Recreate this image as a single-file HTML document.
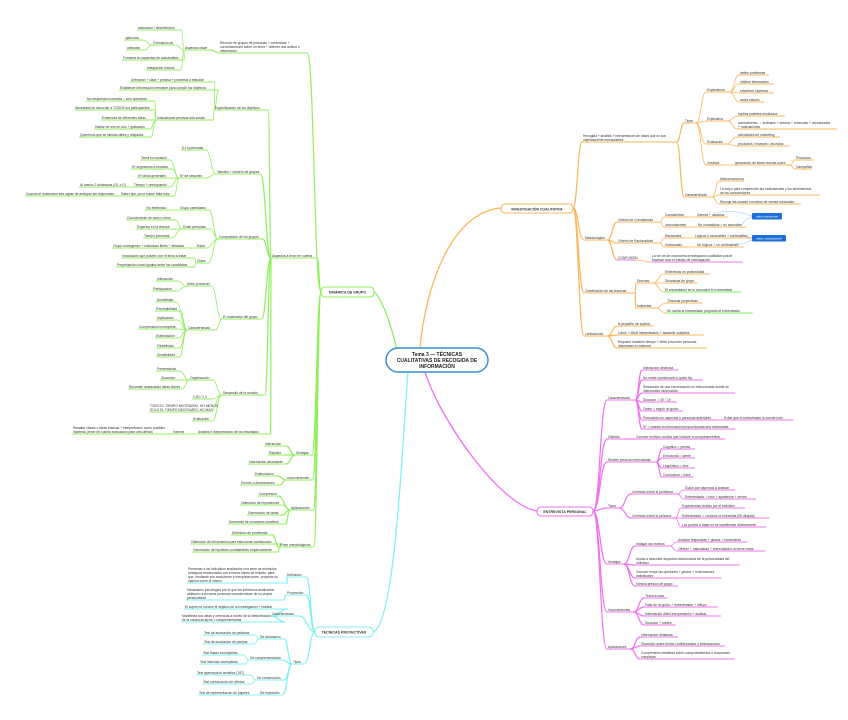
<!DOCTYPE html>
<html><head><meta charset="utf-8"><style>
html,body{margin:0;padding:0;background:#fff;width:848px;height:720px;overflow:hidden}
svg{display:block}
text{font-family:"Liberation Sans",sans-serif;fill:#333}
</style></head><body>
<svg id="s" width="848" height="720" viewBox="0 0 848 720" xmlns="http://www.w3.org/2000/svg">
<rect width="848" height="720" fill="#fff"/>
<g id="c" fill="none"></g><g id="t"></g>
<!-- central -->
<path d="M420 348 C425 290 450 212 501 208" stroke="#f9b65a" stroke-width="1.3" fill="none"/>
<path d="M397 350 C390 320 380 295 374 292" stroke="#8fef5b" stroke-width="1.3" fill="none"/>
<path d="M408 372 C402 450 395 625 373 632" stroke="#7ff0f0" stroke-width="1.3" fill="none"/>
<path d="M425 372 C440 420 500 505 537 511" stroke="#f070f0" stroke-width="1.3" fill="none"/>
<rect x="386" y="348" width="102" height="24" rx="12" fill="#fff" stroke="#3a8fd4" stroke-width="1.5"/>
<text x="437" y="356" font-size="5" text-anchor="middle" font-weight="bold" style="fill:#222">Tema 3 — TÉCNICAS</text>
<text x="437" y="362" font-size="5" text-anchor="middle" font-weight="bold" style="fill:#222">CUALITATIVAS DE RECOGIDA DE</text>
<text x="437" y="368" font-size="5" text-anchor="middle" font-weight="bold" style="fill:#222">INFORMACIÓN</text>
<rect x="501" y="204" width="72" height="9" rx="4" fill="#fff" stroke="#f9b65a" stroke-width="1.1"/>
<text x="537" y="210.3" font-size="3.5" text-anchor="middle" font-weight="bold">INVESTIGACIÓN CUALITATIVA</text>
<rect x="321" y="287" width="53" height="10" rx="4" fill="#fff" stroke="#8fef5b" stroke-width="1.1"/>
<text x="347.5" y="293.3" font-size="3.5" text-anchor="middle" font-weight="bold">DINÁMICA DE GRUPO</text>
<rect x="315" y="627" width="58" height="10" rx="4" fill="#fff" stroke="#7ff0f0" stroke-width="1.1"/>
<text x="344" y="633.3" font-size="3.6" text-anchor="middle" font-weight="bold">TÉCNICAS PROYECTIVAS</text>
<rect x="537" y="507" width="56" height="9" rx="4" fill="#fff" stroke="#f070f0" stroke-width="1.1"/>
<text x="565" y="513" font-size="3.6" text-anchor="middle" font-weight="bold">ENTREVISTA PERSONAL</text>
<!-- blue boxes -->
<path d="M752 216 C735 210 722 210 714 214 M752 217 C738 222 748 225 738 224 M752 238 C738 236 745 233 742 235 M752 240 C740 245 745 244 735 244" stroke="#6aa8e8" stroke-width="0.7" stroke-dasharray="1,1" fill="none"/>
<rect x="752" y="213" width="30" height="6.5" rx="1" fill="#1e6fd9"/>
<text x="767" y="217.5" font-size="3" text-anchor="middle" style="fill:#fff">plano intelectual</text>
<rect x="752" y="235" width="34" height="6.5" rx="1" fill="#1e6fd9"/>
<text x="769" y="239.5" font-size="3" text-anchor="middle" style="fill:#fff">plano motivacional</text>
</svg>
<script>
var C=document.getElementById('c'),T=document.getElementById('t'),NS='http://www.w3.org/2000/svg';
var FS=3.3,CW=1.62;
function wid(t){var m=0;t.split('\n').forEach(function(l){m=Math.max(m,l.length)});return m*CW+3;}
function el(n,a,p){var e=document.createElementNS(NS,n);for(var k in a)e.setAttribute(k,a[k]);p.appendChild(e);return e;}
function draw(node,side,col,px,py,depth){
 var x=node[0],y=node[1],txt=node[2],kids=node[3]||[],uc=node[4]||col,w=wid(txt);
 var lines=txt.split('\n');
 lines.forEach(function(l,i){var tt=el('text',{x:x,y:y-1.2-(lines.length-1-i)*3.9,'font-size':FS},T);tt.textContent=l;});
 el('path',{d:'M'+(x-1)+' '+y+' H'+(x+w),stroke:uc,'stroke-width':1},C);
 var sx=side>0?x-1:x+w;
 if(px!==null){var mx=px+(sx-px)*0.5;
  el('path',{d:'M'+px+' '+py+' C'+mx+' '+py+' '+mx+' '+y+' '+sx+' '+y,stroke:col,'stroke-width':depth<2?1.2:0.8},C);}
 var ex=side>0?x+w:x-1;
 kids.forEach(function(k){draw(k,side,col,ex,y,depth+1)});
}
var O='#f9b65a',G='#8fef5b',Y='#7ff0f0',M='#f070f0',GL='#7ef05a';
var orange=[
[583,142,"Recogida + análisis + interpretación de datos que no son\nobjetivamente mensurables",[
 [685,123,"Tipos",[
  [707,92,"Exploratoria",[[740,75,"define problemas"],[740,84,"obtiene información"],[740,93,"establece hipótesis"],[740,102,"acota estudio"]]],
  [707,121,"Explicativa",[[738,116,"explica posibles resultados"],[738,129,"conocimiento → actitudes + deseos + creencias + necesidades\n+ motivaciones"]]],
  [707,144,"Evaluación",[[738,137,"actividades de marketing"],[738,146,"productos / envases / anuncios"]]],
  [707,165,"Creativa",[[735,165,"generación de ideas nuevas sobre",[[796,160,"Productos"],[796,169,"Campañas"]]]]]
 ]],
 [685,197,"Características",[[720,181,"Macroeconomía"],[720,195,"La mejor para comprender las motivaciones y los sentimientos\nde los consumidores"],[720,204,"Recoge las causas o motivos de ciertas conductas"]]]
]],
[585,240,"Metodologías",[
 [618,222,"Criterio de Consistencia",[[665,217,"Consistentes",[[697,217,"Genera + usuarios"]]],[665,227,"Inconsistentes",[[698,227,"No consistidos = no asumidos"]]]]],
 [618,243,"Criterio de Racionalidad",[[665,238,"Racionales",[[695,238,"Lógicos o razonables + confesables"]]],[665,247,"Irracionales",[[697,247,"No lógicos + no confesables"]]]]],
 [618,260,"CONFUSIÓN",[[652,262,"La ver.dn de una buena investigación cualitativa puede\nfracasar todo el trabajo de investigación",[],M]],M]
]],
[585,293,"Clasificación de las técnicas",[
 [637,283,"Directas",[[665,274,"Entrevistas en profundidad"],[665,283,"Dinámicas de grupo"],[665,292,"El encuestador se le comunica el entrevistado",[],GL]]],
 [637,308,"Indirectas",[[667,303,"Técnicas proyectivas"],[667,313,"Se oculta al entrevistado propósito al entrevistado",[],GL]]]
]],
[585,336,"Limitaciones",[[618,326,"N pequeño de sujetos"],[618,335,"Caros + difícil interpretación + bastante subjetiva"],[618,348,"Requiere bastante tiempo + difícil encontrar personas\ndispuestas a colaborar"]]]
];
orange.forEach(function(n){draw(n,1,O,573,208,0)});
var magenta=[
[608,400,"Características",[[643,370,"Interacción dinámica"],[643,380,"No existe cuestionario o guión fijo"],[643,393,"Simulación de una conversación no estructurada donde se\nintercambia información"],[643,402,"Duración = 30' / 1h"],[643,411,"Orden = seguir un guión"],[643,420,"Persuasión en aspectos o personas anteriores",[[724,420,"Evitar que el entrevistado lo cuente todo"]]],[643,429,"Nº = cuando la información proporcionada sea redundante"]]],
[608,439,"Objetivo",[[636,439,"Conocer motivos ocultos que inducen a comportamientos"]]],
[608,462,"Niveles persona entrevistada",[[663,449,"Cognitivo = piensa"],[663,458,"Emocional = siente"],[663,468,"Lingüístico = dice"],[663,477,"Conductual = hace"]]],
[608,508,"Tipos",[[632,494,"Centrado sobre el problema",[[685,490,"Guión con aspectos a analizar"],[685,499,"Entrevistador = tono + apariencia + neutro"]]],[632,518,"Centrado sobre la persona",[[682,508,"Experiencias vividas por el individuo"],[682,518,"Entrevistador = conduce la entrevista (Ell dirigida)"],[682,527,"Los puntos a tratar no se manifiestan directamente"]]]]],
[608,564,"Ventajas",[[636,546,"Indagar los motivos",[[678,542,"Analizar respuestas + gestos + movimiento"],[678,551,"Ofrecer + naturalidad + entrevistador no tiene notas"]]],[636,565,"Ayuda a descubrir aspectos relacionados de la personalidad del\nindividuo"],[636,578,"Conocer mejor las opiniones + gestos + motivaciones\nindividuales"],[636,586,"Elimina presión de grupo"]]],
[608,612,"Inconvenientes",[[645,598,"Técnica cara"],[645,607,"Falta de un guión + entrevistador + influye"],[645,616,"Información difícil interpretación + análisis"],[645,625,"Duración + costes"]]],
[608,649,"Aplicaciones",[[641,637,"Información detallada"],[641,646,"Discusión sobre temas confidenciales o embarazosos"],[641,659,"Comprensión detallada sobre comportamientos o reacciones\ncomplejas"]]]
];
magenta.forEach(function(n){draw(n,1,M,593,511,0)});
var green=[
[220,53,"Reunión de grupos de personas + moderador +\nconversaciones sobre un tema + obtener una actitud o\ninformación",[
 [185,50,"Aspectos clave",[[138,30,"animación / desinhibición"],[153,45,"Formación de",[[125,40,"opiniones"],[127,50,"actitudes"]]],[123,60,"Fomenta la capacidad de autoanálisis"],[147,70,"Integración natural"]]]
]],
[272,258,"Aspectos a tener en cuenta",[
 [215,110,"Especificación de los objetivos",[[131,82,"Definición + clara + precisa + problema a estudiar"],[120,90,"Establecer información relevante para cumplir los objetivos"],[157,120,"Indicaciones precisas a/la sesión",[[87,101,"No respuesta incorrecta = solo opiniones"],[75,110,"Necesidad de escuchar a TODOS los participantes"],[102,120,"Existencia de diferentes ideas"],[95,129,"Hablar de uno en uno + grabación"],[80,137,"Queremos que se sientan útiles y relajados"]]]]],
 [217,174,"Tamaño + número de grupos",[[182,150,"6-10 personas"],[180,178,"Nº de sesiones",[[141,160,"Tema en cuestión"],[132,169,"Nº segmentos a estudiar"],[138,178,"Nº ideas generales"],[134,187,"Tiempo + presupuesto",[[80,187,"Al menos 2 dinámicas (G1 x G)"]]],[121,196,"Saber que ya no hacen falta más",[[26,196,"Cuando el moderador sea capaz de anticipar las respuestas"]]]]]]],
 [219,239,"Composición de los grupos",[[180,210,"Grupo candidatos",[[146,210,"Vía telefónica"]]],[183,229,"Evitar personas",[[127,220,"Conocimiento de usos o otros"],[137,229,"Expertos en la técnica"],[144,238,"Tiempo personas"]]],[197,248,"Edad",[[113,248,"Grupo homogéneo + individuos libres + afinados"]]],[197,263,"Clase",[[122,258,"Vinculación que poseen con el tema a tratar"],[117,267,"Perpetuación como iguales entre los candidatos"]]]]],
 [223,319,"El moderador del grupo",[[187,286,"Debe promover",[[157,281,"Interacción"],[153,291,"Participación"]]],[188,330,"Características",[[157,302,"Amabilidad"],[156,311,"Permeabilidad"],[157,320,"Implicación"],[139,329,"Comprensión incompleta"],[156,338,"Estimulación"],[157,348,"Flexibilidad"],[157,357,"Sensibilidad"]]]]],
 [223,395,"Desarrollo de la reunión",[[190,380,"Organización",[[157,371,"Presentación"],[161,380,"Discusión"],[129,389,"Resumen destacando ideas claves"]]],[193,399,"1:30 / 2 h"],[150,412,"TODO EL TIEMPO NECESARIO, NO MENOS.\nSOLO EL TIEMPO NECESARIO, NO MÁS"],[193,421,"Evaluación"]]],
 [198,434,"Análisis e interpretación de los resultados",[[173,434,"Informe",[[73,434,"Resaltar claves o ideas básicas + interpretación como posibles\nhipótesis (tener en cuenta evaluación para otra última)"]]]]]
]],
[296,455,"Ventajas",[[265,446,"Interacción"],[269,455,"Rapidez"],[249,464,"Información abundante"]]],
[287,480,"Inconvenientes",[[255,476,"Estimulación"],[241,485,"Errores o desviaciones"]]],
[291,510,"Aplicaciones",[[259,496,"Compresión"],[241,505,"Obtención de impresiones"],[248,515,"Generación de ideas"],[229,524,"Desarrollo de conceptos creativos"]]],
[280,547,"Fines metodológicos",[[232,535,"Definición de problemas"],[191,544,"Obtención de información para estructurar cuestionario"],[193,552,"Generación de hipótesis contrastables empíricamente"]]]
];
green.forEach(function(n){draw(n,-1,G,321,292,0)});
var cyan=[
[287,577,"Definición",[[188,583,"Presentar a los individuos analizados una serie de estímulos\nambiguos relacionados con el tema objeto de estudio, para\nque, mediante sus reacciones e interpretaciones, proyecte su\nopinión sobre el mismo"]]],
[287,595,"Proyección",[[187,600,"Mecanismo psicológico por el que los individuos analizados\natribuyen a terceras personas características de su propia\npersonalidad"]]],
[272,616,"Características",[[185,609,"El sujeto no conoce el objetivo de la investigación + realizar"],[182,622,"Manifiesta sus ideas y creencias a través de la interpretación\nde la conducta ajena = complementarias"]]],
[293,664,"Tipos",[
 [260,639,"De asociación",[[204,635,"Test de asociación de palabras"],[204,644,"Test de asociación de parejas"]]],
 [250,660,"De complementación",[[203,655,"Test frases incompletas"],[200,664,"Test historias incompletas"]]],
 [257,680,"De construcción",[[197,675,"Test apercepción temática (TAT)"],[203,684,"Test construcción de viñetas"]]],
 [260,695,"De expresión",[[199,695,"Test de representación de papeles"]]]
]]
];
cyan.forEach(function(n){draw(n,-1,Y,315,632,0)});
</script>
</body></html>
